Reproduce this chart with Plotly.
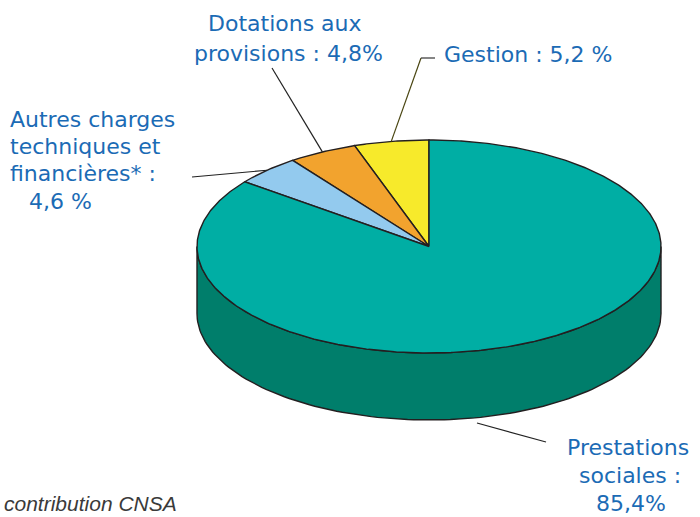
import numpy as np
import plotly.graph_objects as go

# Répartition des charges (en %), dans l'ordre de tracé : depuis midi, sens trigonométrique
categories = ["Gestion", "Dotations aux provisions", "Autres charges techniques et financières*", "Prestations sociales"]
values = [5.2, 4.8, 4.6, 85.4]

top_colors = ["#F7EA2B", "#F2A32E", "#93CAEE", "#00AEA4"]
side_colors = ["#C9BC14", "#C57F1A", "#6FA5C9", "#007E6B"]

W, H = 700, 517
CX, CY, RX, RY, DEPTH = 429, 246.5, 232, 106.5, 67
EDGE = "#231F20"


def fr(v):
    return f"{v:.1f}".replace(".", ",")


def pt(t_deg, dz=0.0):
    t = np.radians(t_deg)
    return CX + RX * np.cos(t), CY - RY * np.sin(t) + dz


total = sum(values)
bounds = [90.0]
for v in values:
    bounds.append(bounds[-1] + 360.0 * v / total)

fig = go.Figure()

# Faces latérales visibles (moitié avant du cylindre)
for i, v in enumerate(values):
    a0, a1 = bounds[i], bounds[i + 1]
    for k in (0, 360):
        s0, s1 = max(a0, 180 + k), min(a1, 360 + k)
        if s1 <= s0:
            continue
        ts = np.linspace(s0, s1, 120)
        xs_top, ys_top = pt(ts)
        xs_bot, ys_bot = pt(ts[::-1], DEPTH)
        xs = np.concatenate([xs_top, xs_bot, xs_top[:1]])
        ys = np.concatenate([ys_top, ys_bot, ys_top[:1]])
        fig.add_trace(go.Scatter(x=xs, y=ys, mode="lines", fill="toself",
                                 fillcolor=side_colors[i],
                                 line=dict(color=EDGE, width=1.4),
                                 hoverinfo="skip", showlegend=False))

# Face supérieure : une part par catégorie
for i, v in enumerate(values):
    a0, a1 = bounds[i], bounds[i + 1]
    ts = np.linspace(a0, a1, max(8, int((a1 - a0) * 2)))
    ex, ey = pt(ts)
    xs = np.concatenate([[CX], ex, [CX]])
    ys = np.concatenate([[CY], ey, [CY]])
    fig.add_trace(go.Scatter(x=xs, y=ys, mode="lines", fill="toself",
                             fillcolor=top_colors[i],
                             line=dict(color=EDGE, width=1.4),
                             hoverinfo="skip", showlegend=False,
                             name=categories[i]))

# Traits de rappel vers les étiquettes
mids = [(bounds[i] + bounds[i + 1]) / 2 for i in range(len(values))]
shapes = []
gx, gy = pt(mids[0])
shapes.append(dict(type="line", x0=gx, y0=gy, x1=421, y1=58, line=dict(color="#4A4612", width=1.2)))
shapes.append(dict(type="line", x0=421, y0=58, x1=435, y1=58, line=dict(color="#333333", width=1.2)))
dx, dy = pt(mids[1])
shapes.append(dict(type="line", x0=dx, y0=dy, x1=272, y1=68, line=dict(color="#222222", width=1.2)))
ax_, ay_ = pt(mids[2])
shapes.append(dict(type="line", x0=ax_, y0=ay_, x1=192, y1=177, line=dict(color="#222222", width=1.2)))
shapes.append(dict(type="line", x0=477, y0=423, x1=546, y1=442, line=dict(color="#222222", width=1.2)))

BLUE = "#1B6BB5"
FONT = dict(family="DejaVu Sans", size=22, color=BLUE)


def note(text, x, y, xanchor="center"):
    return dict(text=text, x=x, y=y, xref="x", yref="y", xanchor=xanchor,
                yanchor="middle", showarrow=False, font=FONT)


annotations = [
    note("Dotations aux", 285, 23),
    note(f"provisions : {fr(values[1])}%", 288, 53),
    note(f"Gestion : {fr(values[0])} %", 442, 54, "left"),
    note("Autres charges", 8, 119, "left"),
    note("techniques et", 8, 146, "left"),
    note("financières* :", 8, 173, "left"),
    note(f"{fr(values[2])} %", 60, 201),
    note("Prestations", 628, 447),
    note("sociales :", 630, 475),
    note(f"{fr(values[3])}%", 631, 503),
    dict(text="<i>contribution CNSA</i>", x=2, y=503, xref="x", yref="y",
         xanchor="left", yanchor="middle", showarrow=False,
         font=dict(family="Liberation Sans", size=21, color="#3A3A3A")),
]

fig.update_layout(
    width=W, height=H,
    margin=dict(l=0, r=0, t=0, b=0),
    paper_bgcolor="white", plot_bgcolor="white",
    xaxis=dict(range=[0, W], visible=False, fixedrange=True),
    yaxis=dict(range=[H, 0], visible=False, fixedrange=True),
    shapes=shapes,
    annotations=annotations,
    showlegend=False,
)

fig.write_html("out.html")
